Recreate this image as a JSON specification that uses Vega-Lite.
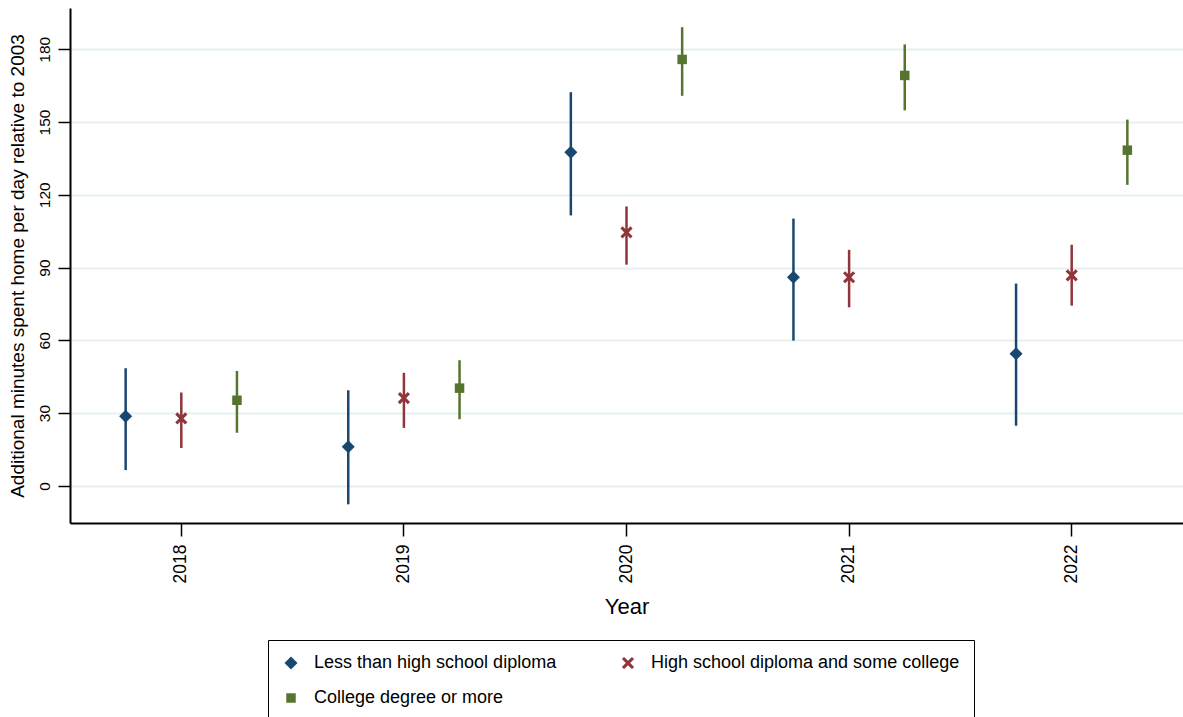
{
  "$schema": "https://vega.github.io/schema/vega-lite/v6.json",
  "autosize": {"type": "none"},
  "padding": {"left": 70, "top": 8, "right": 0, "bottom": 194},
  "width": 1113,
  "height": 515,
  "background": "white",
  "config": {
    "view": {"stroke": null},
    "font": "Liberation Sans",
    "legend": {
      "orient": "none", "legendX": 198, "legendY": 632,
      "direction": "horizontal", "columns": 2, "columnPadding": 62, "rowPadding": 17,
      "padding": 14, "strokeColor": "black", "fillColor": "white",
      "labelFontSize": 18, "labelColor": "black", "labelLimit": 500, "labelOffset": 14,
      "symbolOpacity": 1, "symbolStrokeWidth": 0
    }
  },
  "data": {
    "values": [
      {"year": 2018, "group": "Less than high school diploma", "est": 28.7, "lo": 6.5, "hi": 48.5},
      {"year": 2018, "group": "High school diploma and some college", "est": 27.8, "lo": 15.6, "hi": 38.5},
      {"year": 2018, "group": "College degree or more", "est": 35.3, "lo": 21.9, "hi": 47.4},
      {"year": 2019, "group": "Less than high school diploma", "est": 16.1, "lo": -7.6, "hi": 39.4},
      {"year": 2019, "group": "High school diploma and some college", "est": 36.2, "lo": 23.9, "hi": 46.6},
      {"year": 2019, "group": "College degree or more", "est": 40.3, "lo": 27.5, "hi": 51.8},
      {"year": 2020, "group": "Less than high school diploma", "est": 137.5, "lo": 111.5, "hi": 162.3},
      {"year": 2020, "group": "High school diploma and some college", "est": 104.5, "lo": 91.2, "hi": 115.2},
      {"year": 2020, "group": "College degree or more", "est": 175.8, "lo": 160.8, "hi": 189.1},
      {"year": 2021, "group": "Less than high school diploma", "est": 86.0, "lo": 59.9, "hi": 110.2},
      {"year": 2021, "group": "High school diploma and some college", "est": 86.0, "lo": 73.6, "hi": 97.3},
      {"year": 2021, "group": "College degree or more", "est": 169.2, "lo": 154.8, "hi": 182.0},
      {"year": 2022, "group": "Less than high school diploma", "est": 54.5, "lo": 24.8, "hi": 83.4},
      {"year": 2022, "group": "High school diploma and some college", "est": 86.8, "lo": 74.3, "hi": 99.4},
      {"year": 2022, "group": "College degree or more", "est": 138.4, "lo": 124.1, "hi": 151.0}
    ]
  },
  "encoding": {
    "x": {
      "field": "year", "type": "ordinal",
      "scale": {"paddingInner": 0, "paddingOuter": 0},
      "axis": {
        "title": "Year", "titleFontSize": 22, "titleFontWeight": "normal", "titleColor": "black", "titlePadding": 14,
        "labelAngle": -90, "labelFontSize": 17.5, "labelColor": "black", "labelPadding": 8,
        "tickColor": "black", "tickSize": 13, "tickWidth": 1.5,
        "domainColor": "black", "domainWidth": 2, "grid": false
      }
    },
    "xOffset": {
      "field": "group", "type": "nominal",
      "sort": ["Less than high school diploma", "High school diploma and some college", "College degree or more"],
      "scale": {"paddingInner": 0, "paddingOuter": 0.5}
    },
    "color": {
      "field": "group", "type": "nominal", "title": null,
      "scale": {
        "domain": ["Less than high school diploma", "High school diploma and some college", "College degree or more"],
        "range": ["#1a476f", "#90353b", "#55752f"]
      }
    }
  },
  "layer": [
    {
      "mark": {"type": "rule", "strokeWidth": 2.5},
      "encoding": {
        "y": {
          "field": "lo", "type": "quantitative",
          "scale": {"domain": [-15.3, 197], "nice": false, "zero": false},
          "axis": {
            "title": "Additional minutes spent home per day relative to 2003",
            "titleFontSize": 19, "titleFontWeight": "normal", "titleColor": "black", "titlePadding": 10,
            "values": [0, 30, 60, 90, 120, 150, 180],
            "labelAngle": -90, "labelFontSize": 15.5, "labelColor": "black", "labelPadding": 6,
            "tickColor": "black", "tickSize": 12, "tickWidth": 1.5,
            "domainColor": "black", "domainWidth": 2,
            "grid": true, "gridColor": "#e6eff2", "gridWidth": 2
          }
        },
        "y2": {"field": "hi"}
      }
    },
    {
      "mark": {"type": "point", "filled": true, "opacity": 1},
      "encoding": {
        "y": {"field": "est", "type": "quantitative"},
        "shape": {
          "field": "group", "type": "nominal", "title": null,
          "scale": {
            "domain": ["Less than high school diploma", "High school diploma and some college", "College degree or more"],
            "range": ["diamond", "M0.552,-0.863L0.863,-0.552L0.311,0L0.863,0.552L0.552,0.863L0,0.311L-0.552,0.863L-0.863,0.552L-0.311,0L-0.863,-0.552L-0.552,-0.863L0,-0.311Z", "square"]
          }
        },
        "size": {
          "field": "group", "type": "nominal", "title": null,
          "scale": {
            "type": "ordinal",
            "domain": ["Less than high school diploma", "High school diploma and some college", "College degree or more"],
            "range": [170, 200, 90]
          }
        }
      }
    }
  ]
}
